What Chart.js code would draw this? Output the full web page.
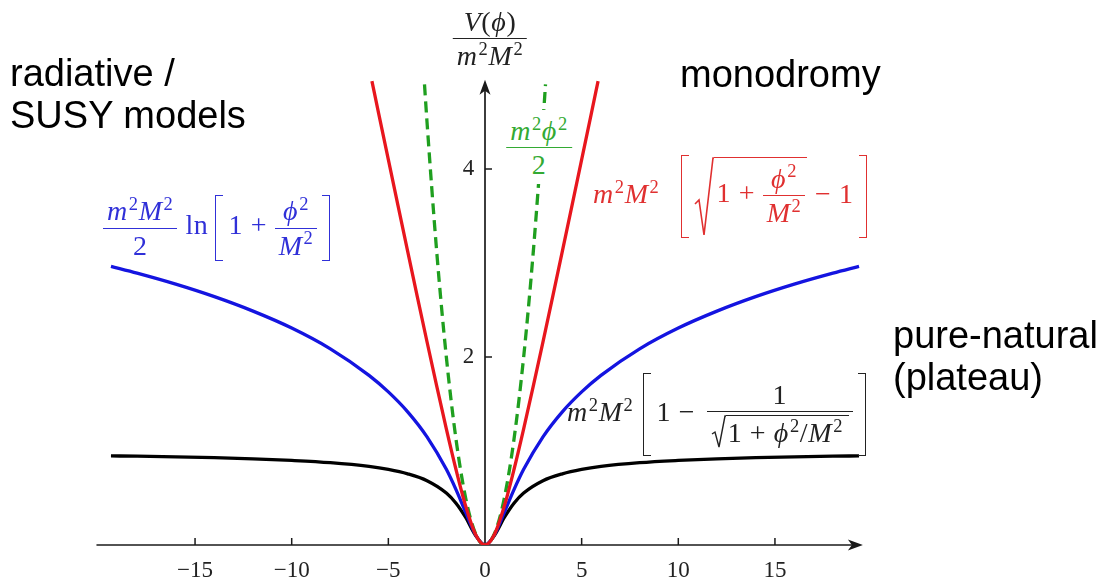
<!DOCTYPE html>
<html><head><meta charset="utf-8">
<script src="https://cdn.jsdelivr.net/npm/chart.js@4.4.1/dist/chart.umd.min.js"></script>
<style>
html,body{margin:0;padding:0;background:#fff;}
#wrap{position:relative;width:1097px;height:580px;overflow:hidden;background:#fff;}
canvas{position:absolute;left:0;top:0;}
.note{position:absolute;font-family:'Liberation Sans',Arial,sans-serif;font-size:38px;line-height:42px;color:#000;white-space:nowrap;}
.m{position:absolute;font-family:'Liberation Serif','Times New Roman',serif;font-size:28px;letter-spacing:0.6px;white-space:nowrap;line-height:1.05;}
.m i{font-style:italic;}
.m sup{font-size:0.66em;vertical-align:0;position:relative;top:-0.55em;font-style:normal;margin-left:1px;}
.fr{display:inline-block;vertical-align:middle;text-align:center;}
.fr .n{display:block;padding:0 4px 2px;border-bottom:1.4px solid currentColor;}
.fr .d{display:block;padding:2px 4px 0;}
.lb,.rb{display:inline-block;vertical-align:middle;width:8px;border:1.5px solid currentColor;box-sizing:border-box;}
.lb{border-right:none;margin:0 5px 0 7px;}
.rb{border-left:none;margin:0 2px 0 5px;}
.sq{display:inline-flex;vertical-align:middle;align-items:flex-start;}
.sq svg{display:block;}
.sq .in{display:inline-block;border-top:1.4px solid currentColor;padding:2px 2px 0 2px;}
.sp{display:inline-block;width:8px;}
</style></head>
<body>
<div id="wrap">
<canvas id="c" width="1097" height="580"></canvas>

<div class="note" style="left:10px;top:52px;">radiative /<br>SUSY models</div>
<div class="note" style="left:680px;top:53px;">monodromy</div>
<div class="note" style="left:893px;top:314px;">pure-natural<br>(plateau)</div>

<div class="m" style="left:490px;top:7px;transform:translateX(-50%);color:#222;">
<span class="fr"><span class="n"><i>V</i>(<i>ϕ</i>)</span><span class="d"><i>m</i><sup>2</sup><i>M</i><sup>2</sup></span></span>
</div>

<div class="m" style="left:539px;top:110px;transform:translateX(-50%);color:#33aa33;background:#fff;padding:6px 2px 4px;">
<span class="fr"><span class="n"><i>m</i><sup>2</sup><i>ϕ</i><sup>2</sup></span><span class="d">2</span></span>
</div>

<div class="m" style="left:103px;top:195px;color:#3030d8;">
<span class="fr"><span class="n"><i>m</i><sup>2</sup><i>M</i><sup>2</sup></span><span class="d">2</span></span><span class="sp"></span>ln<span class="lb" style="height:66px"></span>1 + <span class="fr"><span class="n"><i>ϕ</i><sup>2</sup></span><span class="d"><i>M</i><sup>2</sup></span></span><span class="rb" style="height:66px"></span>
</div>

<div class="m" style="left:593px;top:155px;color:#e03030;">
<i>m</i><sup>2</sup><i>M</i><sup>2</sup><span class="lb" style="height:83px;margin-left:22px"></span><span class="sq"><svg width="20" height="80" viewBox="0 0 20 80"><path d="M1 47 L5 43 L10 78 L19 1 L20 1" fill="none" stroke="currentColor" stroke-width="1.6"/></svg><span class="in" style="padding-top:6px">1 + <span class="fr"><span class="n"><i>ϕ</i><sup>2</sup></span><span class="d"><i>M</i><sup>2</sup></span></span></span></span> − 1<span class="rb" style="height:83px"></span>
</div>

<div class="m" style="left:567px;top:373px;color:#222;">
<i>m</i><sup>2</sup><i>M</i><sup>2</sup><span class="lb" style="height:83px;margin-left:10px"></span>1 − <span class="fr" style="margin-left:4px"><span class="n">1</span><span class="d"><span class="sq"><svg width="15" height="34" viewBox="0 0 15 34"><path d="M1 19 L4 17 L8 32 L14 1 L15 1" fill="none" stroke="currentColor" stroke-width="1.4"/></svg><span class="in" style="padding-right:6px">1 + <i>ϕ</i><sup>2</sup>/<i>M</i><sup>2</sup></span></span></span></span><span class="rb" style="height:83px"></span>
</div>
</div>

<script>
// ---- data ----
const xTickValues = [-15, -10, -5, 0, 5, 10, 15];
const yTickValues = [2, 4];

const phiBlack = [-19.35,-18,-16,-14,-12,-10,-8,-6,-5,-4,-3,-2,-1.5,-1,-0.5,0,0.5,1,1.5,2,3,4,5,6,8,10,12,14,16,18,19.35];
const vBlack   = [0.948,0.945,0.938,0.929,0.917,0.900,0.876,0.836,0.804,0.757,0.684,0.553,0.445,0.293,0.106,0,0.106,0.293,0.445,0.553,0.684,0.757,0.804,0.836,0.876,0.900,0.917,0.929,0.938,0.945,0.948];

const phiBlue = [-19.35,-18,-16,-14,-12,-10,-8,-6,-5,-4,-3,-2,-1.5,-1,-0.5,0,0.5,1,1.5,2,3,4,5,6,8,10,12,14,16,18,19.35];
const vBlue   = [2.964,2.892,2.775,2.642,2.488,2.308,2.087,1.805,1.629,1.417,1.151,0.805,0.589,0.347,0.112,0,0.112,0.347,0.589,0.805,1.151,1.417,1.629,1.805,2.087,2.308,2.488,2.642,2.775,2.892,2.964];

const phiRed = [-5.85,-5.5,-5,-4.5,-4,-3.5,-3,-2.5,-2,-1.5,-1,-0.5,0,0.5,1,1.5,2,2.5,3,3.5,4,4.5,5,5.5,5.85];
const vRed   = [4.935,4.590,4.099,3.610,3.123,2.640,2.162,1.693,1.236,0.803,0.414,0.118,0,0.118,0.414,0.803,1.236,1.693,2.162,2.640,3.123,3.610,4.099,4.590,4.935];

const phiGreen = [-3.13,-3,-2.5,-2,-1.5,-1,-0.5,0,0.5,1,1.5,2,2.5,3,3.13];
const vGreen   = [4.90,4.50,3.125,2.0,1.125,0.5,0.125,0,0.125,0.5,1.125,2.0,3.125,4.50,4.90];

const pts = (xs, ys) => xs.map((x, i) => ({x: x, y: ys[i]}));

const axesPlugin = {
  id: 'axesArrows',
  beforeDatasetsDraw(chart) {
    const {ctx, scales: {x, y}} = chart;
    const x0 = x.getPixelForValue(0), y0 = y.getPixelForValue(0);
    ctx.save();
    ctx.strokeStyle = '#1a1a1a'; ctx.fillStyle = '#1a1a1a'; ctx.lineWidth = 1.7;
    const xl = x.getPixelForValue(-20.1), xr = x.getPixelForValue(19.55);
    ctx.beginPath(); ctx.moveTo(xl, y0); ctx.lineTo(xr - 6, y0); ctx.stroke();
    ctx.beginPath(); ctx.moveTo(xr, y0); ctx.lineTo(xr - 15, y0 - 5.5); ctx.lineTo(xr - 11, y0); ctx.lineTo(xr - 15, y0 + 5.5); ctx.closePath(); ctx.fill();
    const yt = y.getPixelForValue(4.95);
    ctx.beginPath(); ctx.moveTo(x0, y0); ctx.lineTo(x0, yt + 6); ctx.stroke();
    ctx.beginPath(); ctx.moveTo(x0, yt); ctx.lineTo(x0 - 5.5, yt + 15); ctx.lineTo(x0, yt + 11); ctx.lineTo(x0 + 5.5, yt + 15); ctx.closePath(); ctx.fill();
    ctx.lineWidth = 1.5;
    xTickValues.forEach(v => { if (v === 0) return; const px = x.getPixelForValue(v); ctx.beginPath(); ctx.moveTo(px, y0); ctx.lineTo(px, y0 - 7); ctx.stroke(); });
    yTickValues.forEach(v => { const py = y.getPixelForValue(v); ctx.beginPath(); ctx.moveTo(x0, py); ctx.lineTo(x0 + 7, py); ctx.stroke(); });
    ctx.restore();
  }
};

const common = {showLine: true, pointRadius: 0, borderWidth: 3.3, cubicInterpolationMode: 'monotone', fill: false};

new Chart(document.getElementById('c').getContext('2d'), {
  type: 'scatter',
  data: {datasets: [
    Object.assign({label: 'monodromy', data: pts(phiRed, vRed), borderColor: '#e8161e'}, common),
    Object.assign({label: 'quadratic', data: pts(phiGreen, vGreen), borderColor: '#1f9f1f', borderDash: [11, 6]}, common),
    Object.assign({label: 'radiative', data: pts(phiBlue, vBlue), borderColor: '#1414e0'}, common),
    Object.assign({label: 'plateau', data: pts(phiBlack, vBlack), borderColor: '#000000'}, common)
  ]},
  options: {
    responsive: false, animation: false, devicePixelRatio: 1,
    layout: {padding: {left: 98.4, right: 225.4, top: 75, bottom: 0}},
    plugins: {legend: {display: false}, tooltip: {enabled: false}},
    scales: {
      x: {
        type: 'linear', min: -20, max: 20, position: 'bottom',
        grid: {display: false, drawTicks: false}, border: {display: false},
        afterBuildTicks: s => { s.ticks = xTickValues.map(v => ({value: v})); },
        afterFit: s => { s.height = 35; },
        ticks: {padding: 12, color: '#222', maxRotation: 0, autoSkip: false, font: {family: "'Liberation Serif', serif", size: 23},
          callback: v => v < 0 ? '\u2212' + Math.abs(v) : String(v)}
      },
      y: {
        type: 'linear', min: 0, max: 5, position: {x: -0.55},
        grid: {display: false, drawTicks: false}, border: {display: false},
        afterBuildTicks: s => { s.ticks = yTickValues.map(v => ({value: v})); },
        afterFit: s => { s.width = 0; },
        ticks: {padding: 0, color: '#222', font: {family: "'Liberation Serif', serif", size: 23}}
      }
    }
  },
  plugins: [axesPlugin]
});
</script>
</body></html>
